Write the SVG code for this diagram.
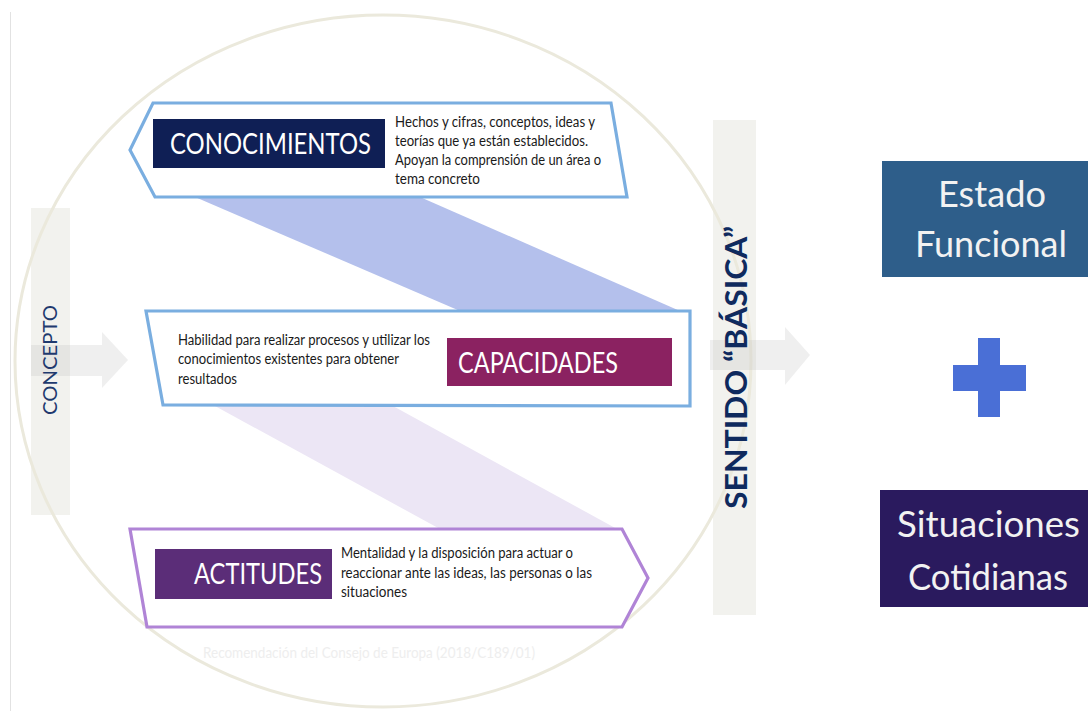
<svg xmlns="http://www.w3.org/2000/svg" width="1088" height="711" viewBox="0 0 1088 711">
<style>
.bar{fill:#f2f2ee}
.arrow{fill:#bfbfbf;fill-opacity:0.25}
.ring{fill:none;stroke:#ebe9dc;stroke-width:3}
.box{fill:#ffffff;stroke-width:3.2;stroke-linejoin:miter}
.blue{stroke:#7aaee0}
.purple{stroke:#b084d6}
.lbl{font-family:Lato,"Liberation Sans",sans-serif;fill:#ffffff;font-size:28px}
.desc{font-family:Lato,"Liberation Sans",sans-serif;fill:#1a1a1a;font-size:14.5px}
.side{font-family:Lato,"Liberation Sans",sans-serif;fill:#1f3a6e}
.big{font-family:Lato,"Liberation Sans",sans-serif;fill:#f2f2f2;font-size:36px;text-anchor:middle}
</style>
<rect x="0" y="0" width="1088" height="711" fill="#ffffff"/>
<line x1="10.5" y1="12" x2="10.5" y2="711" stroke="#e2e2e2" stroke-width="1"/>

<g id="node-concepto">
<rect class="bar" x="31" y="208" width="39" height="307"/>
</g>
<g id="node-sentido">
<rect class="bar" x="713" y="120" width="43" height="495"/>
</g>

<ellipse class="ring" cx="383" cy="361" rx="368" ry="346"/>

<g id="connectors">
<polygon points="195,197 420,197 680,311 460,311" fill="#b4c0ec"/>
<polygon points="215,406 393,406 617,529 440,529" fill="#ece6f5"/>
<polygon class="arrow" points="31,345 102,345 102,332 128,360 102,388 102,376 31,376"/>
<polygon class="arrow" points="710,340 785,340 785,327 810,355 785,385 785,370 710,370"/>
</g>

<g id="node-conocimientos">
<polygon class="box blue" points="153,103 611,103 627,197 155,197 130,150"/>
<rect x="153" y="119" width="232" height="49" fill="#0f1f55"/>
<text class="lbl" x="170" y="154" textLength="201" lengthAdjust="spacingAndGlyphs">CONOCIMIENTOS</text>
<text class="desc" x="395" y="127" textLength="200" lengthAdjust="spacingAndGlyphs">Hechos y cifras, conceptos, ideas y</text>
<text class="desc" x="395" y="146" textLength="193" lengthAdjust="spacingAndGlyphs">teorías que ya están establecidos.</text>
<text class="desc" x="395" y="165" textLength="206" lengthAdjust="spacingAndGlyphs">Apoyan la comprensión de un área o</text>
<text class="desc" x="395" y="184" textLength="85" lengthAdjust="spacingAndGlyphs">tema concreto</text>
</g>

<g id="node-capacidades">
<polygon class="box blue" points="146,311 690,311 690,406 163,405"/>
<rect x="447" y="338" width="225" height="48" fill="#8b2261"/>
<text class="lbl" x="458" y="373" textLength="160" lengthAdjust="spacingAndGlyphs">CAPACIDADES</text>
<text class="desc" x="178" y="345" textLength="252" lengthAdjust="spacingAndGlyphs">Habilidad para realizar procesos y utilizar los</text>
<text class="desc" x="178" y="364" textLength="221" lengthAdjust="spacingAndGlyphs">conocimientos existentes para obtener</text>
<text class="desc" x="178" y="384" textLength="59" lengthAdjust="spacingAndGlyphs">resultados</text>
</g>

<g id="node-actitudes">
<polygon class="box purple" points="130,529 622,529 648,578 622,627 147,627"/>
<rect x="155" y="549" width="177" height="50" fill="#5b2d78"/>
<text class="lbl" x="194" y="584" textLength="128" lengthAdjust="spacingAndGlyphs">ACTITUDES</text>
<text class="desc" x="341" y="558" textLength="232" lengthAdjust="spacingAndGlyphs">Mentalidad y la disposición para actuar o</text>
<text class="desc" x="341" y="578" textLength="251" lengthAdjust="spacingAndGlyphs">reaccionar ante las ideas, las personas o las</text>
<text class="desc" x="341" y="597" textLength="66" lengthAdjust="spacingAndGlyphs">situaciones</text>
</g>

<text class="side" font-size="20" x="0" y="0" transform="translate(57,415) rotate(-90)" textLength="110" lengthAdjust="spacingAndGlyphs">CONCEPTO</text>
<text class="side" font-size="30" font-weight="bold" x="0" y="0" fill="#0f2a5e" transform="translate(747,509) rotate(-90)" textLength="283" lengthAdjust="spacingAndGlyphs" style="fill:#0f2a5e">SENTIDO “BÁSICA”</text>

<text x="369" y="658" text-anchor="middle" font-family="Lato,'Liberation Sans',sans-serif" font-size="16" fill="#eeeeee" textLength="332" lengthAdjust="spacingAndGlyphs">Recomendación del Consejo de Europa (2018/C189/01)</text>

<g id="node-estado">
<rect x="882" y="161" width="206" height="116" fill="#2e5e8a"/>
<text class="big" x="992" y="207" textLength="108" lengthAdjust="spacingAndGlyphs">Estado</text>
<text class="big" x="991" y="257" textLength="152" lengthAdjust="spacingAndGlyphs">Funcional</text>
</g>

<g id="node-plus">
<rect x="978" y="338" width="22" height="79" fill="#4a6fd6"/>
<rect x="953" y="365" width="73" height="26" fill="#4a6fd6"/>
</g>

<g id="node-situaciones">
<rect x="880" y="490" width="208" height="117" fill="#2a1a5e"/>
<text class="big" x="988.5" y="537" textLength="183" lengthAdjust="spacingAndGlyphs">Situaciones</text>
<text class="big" x="988" y="590" textLength="160" lengthAdjust="spacingAndGlyphs">Cotidianas</text>
</g>
</svg>
